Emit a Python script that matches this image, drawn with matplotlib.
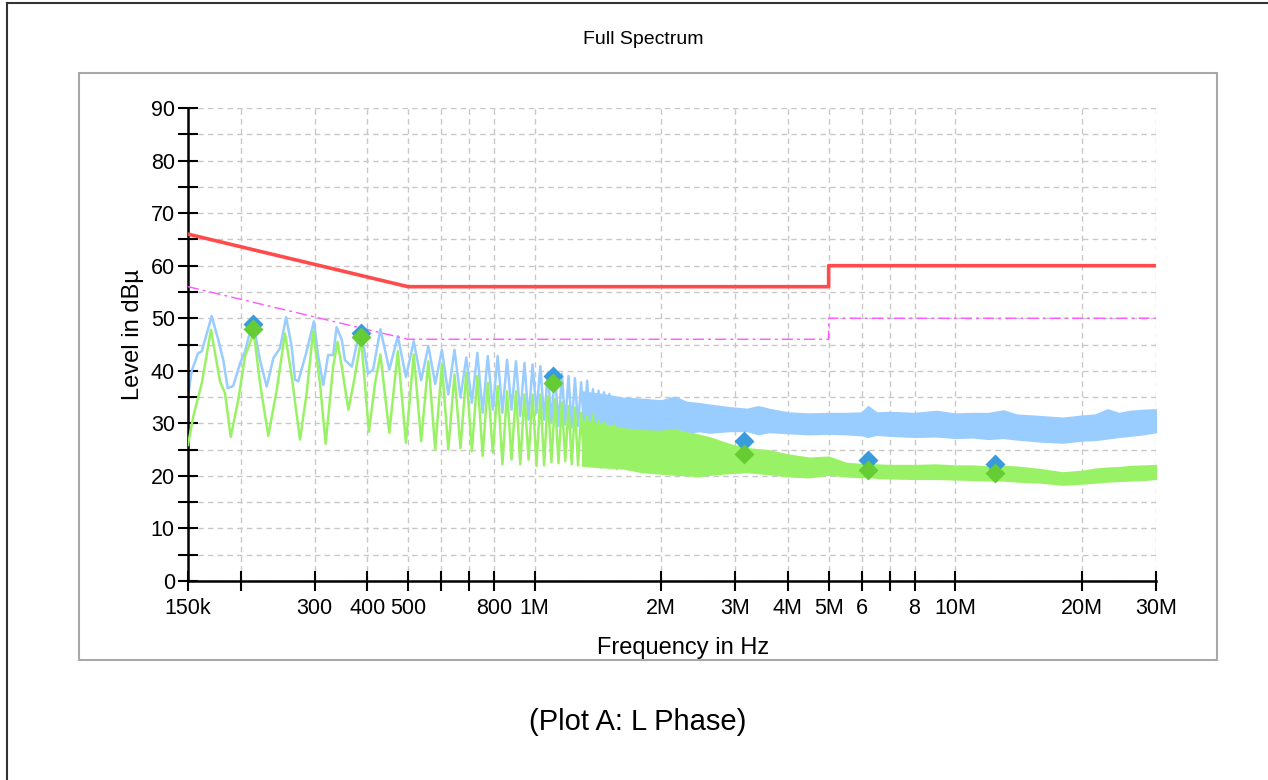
import numpy as np
import matplotlib
matplotlib.use("Agg")
import matplotlib.pyplot as plt
from matplotlib.patches import Rectangle
from matplotlib.lines import Line2D

plt.rcParams['font.family'] = ['Liberation Sans', 'DejaVu Sans']

# limit lines (MHz / dBuV)
lim_mhz = [0.15, 0.5, 5.0, 5.0, 30.0]
qp_limit = [66, 56, 56, 60, 60]
av_limit = [56, 46, 46, 50, 50]

# low frequency part of the traces, read point by point (kHz / dB)
blue_lo_khz = [150, 153, 158.4, 161.7, 170.8, 177, 182, 186.4, 192.1, 199.4, 204.9, 214,
               222.5, 230.8, 239.3, 248.2, 256.6, 264.6, 269.5, 274.3, 281.9, 287.1, 298.8,
               305.7, 314.5, 323, 332, 338.3, 348, 354.3, 367.8, 378.1, 387, 402, 413]
blue_lo_db = [35.1, 39.9, 43.3, 43.7, 50.4, 45.9, 42.0, 36.7, 37.1, 41.4, 43.7, 49.5,
              42.0, 37.0, 42.4, 44.3, 50.2, 44.6, 38.3, 38.0, 41.4, 43.7, 49.4,
              43.0, 37.3, 43.0, 43.0, 48.3, 45.9, 42.0, 40.8, 45.2, 47.5, 39.5, 40.2]
green_lo_khz = [150, 154.4, 161.7, 170.1, 178.7, 183.7, 189.5, 197.5, 204.9, 215, 222.5,
                232.8, 243.8, 255.1, 264.6, 276.9, 287.1, 297.6, 308.9, 318.6, 332, 340,
                348, 360.9, 371.2, 387, 403.7, 417.5]
green_lo_db = [25.9, 31.3, 37.6, 47.8, 38.0, 35.7, 27.4, 34.5, 42.7, 47.3, 37.6,
               27.6, 36.4, 47.1, 38.9, 26.9, 35.7, 47.5, 37.6, 26.1, 40.8, 45.5,
               40.8, 32.6, 37.6, 46.0, 28.4, 37.6]

# harmonics of the ~43 kHz switching frequency: peak and following dip
harm_khz = [430, 473, 516, 559, 602, 645, 688, 731, 774, 817, 860, 903, 946, 989,
            1032, 1075, 1118, 1161, 1204, 1247, 1290, 1333, 1376, 1419, 1462, 1505, 1548, 1591]
blue_pk = [47.9, 46.6, 45.6, 44.7, 44.0, 44.0, 42.5, 43.4, 42.8, 42.8, 42.1, 41.8, 41.5, 41.2,
           40.9, 39.7, 39.7, 39.4, 39.0, 38.6, 37.8, 38.1, 36.5, 36.2, 35.9, 35.6, 35.0, 34.6]
blue_tr = [40.2, 38.8, 38.2, 37.5, 35.5, 34.9, 33.9, 32.0, 32.6, 32.0, 32.6, 31.4, 30.7, 32.0,
           30.7, 30.2, 29.5, 29.8, 29.2, 29.5, 29.0, 29.3, 28.9, 29.2, 28.9, 29.0, 28.7, 28.9]
green_pk = [43.1, 43.7, 43.1, 41.8, 41.2, 39.3, 39.6, 39.0, 37.7, 37.1, 36.1, 36.1, 35.5, 35.5,
            35.5, 35.2, 34.6, 34.0, 33.3, 33.0, 32.0, 31.4, 31.6, 30.5, 30.2, 29.5, 29.8, 29.0]
green_tr = [28.2, 26.3, 26.6, 25.0, 25.0, 25.3, 24.7, 23.8, 24.4, 22.2, 23.1, 22.2, 23.1, 21.9,
            22.0, 22.6, 22.4, 22.8, 22.2, 22.0, 22.4, 21.9, 22.1, 21.6, 21.8, 21.5, 21.3, 21.5]

# above ~1.3 MHz the traces are a dense band: upper / lower edge
band_mhz = [1.3, 1.45, 1.62, 1.8, 2.0, 2.15, 2.3, 2.45, 2.6, 2.9, 3.2, 3.4, 3.6, 4.0, 4.5,
            5.0, 5.5, 6.0, 6.2, 6.5, 7.0, 8.0, 9.0, 10, 11, 12, 13, 14, 16, 18, 20, 21.5,
            23, 24.5, 26, 28, 30]
blue_up = [36.0, 35.5, 34.8, 34.6, 34.3, 35.0, 34.0, 33.8, 33.5, 33.0, 32.7, 33.2, 32.7, 32.0,
           31.8, 31.9, 31.9, 32.0, 33.2, 32.0, 32.1, 31.9, 32.3, 31.8, 31.9, 31.9, 32.4, 31.6,
           31.3, 31.0, 31.4, 31.6, 32.6, 31.9, 32.3, 32.5, 32.6]
blue_dn = [29.5, 29.0, 28.9, 28.5, 28.8, 28.2, 28.0, 28.6, 28.3, 28.6, 28.6, 28.0, 28.4, 28.2,
           28.0, 28.1, 28.0, 27.8, 27.5, 27.9, 27.7, 27.5, 27.6, 27.3, 27.4, 27.1, 27.3, 27.0,
           26.6, 26.4, 26.8, 26.9, 27.2, 27.5, 27.7, 28.0, 28.4]
green_up = [30.5, 29.8, 29.0, 28.6, 28.5, 28.8, 28.2, 27.8, 27.3, 26.0, 25.2, 25.0, 24.8, 24.0,
            23.4, 23.6, 22.4, 22.2, 22.3, 22.1, 22.0, 22.0, 22.1, 21.9, 21.9, 21.7, 21.8, 21.7,
            21.2, 20.6, 20.9, 21.3, 21.5, 21.6, 21.8, 21.9, 22.0]
green_dn = [22.0, 21.7, 21.5, 20.8, 20.5, 20.3, 20.2, 20.0, 20.3, 20.6, 20.8, 20.6, 20.4, 20.0,
            19.8, 20.3, 20.0, 19.8, 19.9, 19.7, 19.6, 19.5, 19.5, 19.4, 19.3, 19.2, 19.2, 19.0,
            18.8, 18.4, 18.6, 18.8, 19.0, 19.1, 19.2, 19.3, 19.5]

# final measurement markers
mk_khz = [214, 387, 1105, 3145, 6200, 12400]
mk_peak = [48.9, 47.2, 39.0, 26.6, 23.0, 22.3]
mk_avg = [47.9, 46.4, 37.7, 24.2, 21.1, 20.5]

tick_hz = [150e3, 200e3, 300e3, 400e3, 500e3, 600e3, 700e3, 800e3, 1e6, 2e6, 3e6, 4e6,
           5e6, 6e6, 7e6, 8e6, 10e6, 20e6, 30e6]
tick_lbl = ['150k', '', '300', '400', '500', '', '', '800', '1M', '2M', '3M', '4M',
            '5M', '6', '', '8', '10M', '20M', '30M']

BLUE = '#99CCFF'
GREEN = '#99F266'


def zigzag(khz, pk, tr):
    khz = np.array(khz, dtype=float)
    f = np.column_stack([khz, khz + 21.5]).ravel() * 1e3
    v = np.column_stack([pk, tr]).ravel()
    return f, v


fig = plt.figure(figsize=(12.68, 7.80), dpi=100)
W, H = 1268.0, 780.0

# page border and inner panel frame
fig.add_artist(Line2D([7 / W, 7 / W], [0, 1 - 3 / H], color='#333333', lw=1.5))
fig.add_artist(Line2D([7 / W, 1], [1 - 3 / H, 1 - 3 / H], color='#333333', lw=1.5))
fig.add_artist(Rectangle((79 / W, 1 - 660 / H), (1217 - 79) / W, (660 - 73) / H,
                         fill=False, edgecolor='#A8A8A8', lw=1.5))

ax = fig.add_axes([188 / W, 1 - 581 / H, (1156 - 188) / W, (581 - 108) / H])

bf, bv = zigzag(harm_khz, blue_pk, blue_tr)
gf, gv = zigzag(harm_khz, green_pk, green_tr)
band_hz = np.array(band_mhz) * 1e6

ax.plot(np.r_[np.array(blue_lo_khz) * 1e3, bf], np.r_[blue_lo_db, bv], color=BLUE, lw=1.8, zorder=2)
ax.fill_between(band_hz, blue_dn, blue_up, color=BLUE, lw=1.5, edgecolor=BLUE, zorder=2)
ax.plot(np.r_[np.array(green_lo_khz) * 1e3, gf], np.r_[green_lo_db, gv], color=GREEN, lw=1.8, zorder=3)
ax.fill_between(band_hz, green_dn, green_up, color=GREEN, lw=1.5, edgecolor=GREEN, zorder=3)

lim_hz = np.array(lim_mhz) * 1e6
ax.plot(lim_hz, qp_limit, color='#FF4B4B', lw=2.6, zorder=4)
ax.plot(lim_hz, av_limit, color='#FF55FF', lw=1.0, ls=(0, (8, 3, 2, 3)), zorder=4)

mk_hz = np.array(mk_khz) * 1e3
ax.plot(mk_hz, mk_peak, ls='none', marker='D', ms=10, color='#3A9BDC', mec='none', zorder=5)
ax.plot(mk_hz, mk_avg, ls='none', marker='D', ms=10, color='#66CC33', mec='none', zorder=6)

ax.set_xscale('log')
ax.set_xlim(150e3, 30e6)
ax.set_ylim(0, 90)
ax.set_xticks(tick_hz)
ax.set_xticklabels(tick_lbl)
ax.xaxis.set_minor_locator(plt.NullLocator())
ax.set_yticks(np.arange(0, 91, 5))
ax.set_yticklabels([str(v) if v % 10 == 0 else '' for v in range(0, 91, 5)])
ax.tick_params(direction='inout', length=15, width=1.5, colors='black', labelsize=15.5)
ax.tick_params(axis='x', pad=5)
ax.tick_params(axis='y', pad=2)

ax.grid(True, ls=(0, (4, 3)), color='#C8C8C8', lw=1.0)
ax.set_axisbelow(True)
for s in ['top', 'right']:
    ax.spines[s].set_visible(False)
for s in ['left', 'bottom']:
    ax.spines[s].set_linewidth(1.8)
ax.patch.set_alpha(0)

ax.set_xlabel('Frequency in Hz', fontsize=17)
ax.xaxis.set_label_coords((683 - 188) / 968, (581 - 648) / 473)
ax.xaxis.label.set_va('center')
ax.set_ylabel('Level in dBµ', fontsize=17)
ax.yaxis.set_label_coords((133 - 188) / 968, (581 - 335) / 473)
ax.yaxis.label.set_va('center')

fig.text(643 / W, 1 - 40 / H, 'Full Spectrum', fontsize=14, ha='center', va='center')
fig.text(638 / W, 1 - 722 / H, '(Plot A: L Phase)', fontsize=21, ha='center', va='center')

fig.savefig('out.png', dpi=100)
